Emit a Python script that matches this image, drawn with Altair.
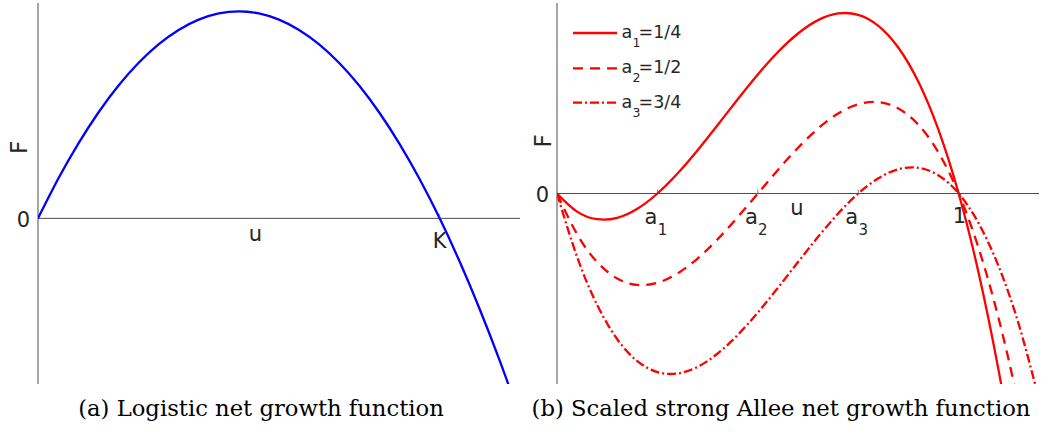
import altair as alt
import pandas as pd

# Population grid shared by both panels
u_grid = [0.0, 0.05, 0.1, 0.15, 0.2, 0.25, 0.3, 0.35, 0.4, 0.45, 0.5, 0.55, 0.6,
          0.65, 0.7, 0.75, 0.8, 0.85, 0.9, 0.95, 1.0, 1.05, 1.1, 1.15, 1.2]

# (a) logistic net growth F(u)
logistic_F = [0.0, 0.0475, 0.09, 0.1275, 0.16, 0.1875, 0.21, 0.2275, 0.24, 0.2475,
              0.25, 0.2475, 0.24, 0.2275, 0.21, 0.1875, 0.16, 0.1275, 0.09, 0.0475,
              0.0, -0.0525, -0.11, -0.1725, -0.24]

# (b) scaled strong Allee net growth F(u) for three thresholds
allee_a1 = [0.0, -0.0095, -0.0135, -0.01275, -0.008, 0.0, 0.0105, 0.02275, 0.036,
            0.0495, 0.0625, 0.07425, 0.084, 0.091, 0.0945, 0.09375, 0.088, 0.0765,
            0.0585, 0.03325, 0.0, -0.042, -0.0935, -0.15525, -0.228]
allee_a2 = [0.0, -0.021375, -0.036, -0.044625, -0.048, -0.046875, -0.042, -0.034125,
            -0.024, -0.012375, 0.0, 0.012375, 0.024, 0.034125, 0.042, 0.046875, 0.048,
            0.044625, 0.036, 0.021375, 0.0, -0.028875, -0.066, -0.112125, -0.168]
allee_a3 = [0.0, -0.03325, -0.0585, -0.0765, -0.088, -0.09375, -0.0945, -0.091, -0.084,
            -0.07425, -0.0625, -0.0495, -0.036, -0.02275, -0.0105, 0.0, 0.008, 0.01275,
            0.0135, 0.0095, 0.0, -0.01575, -0.0385, -0.069, -0.108]

# Axis extents
u_domain = [0.0, 1.2]
left_F_domain = [-0.2, 0.26]
right_F_domain = [-0.1, 0.1]

# Tick positions and labels
K_value = 1.0
a_values = [0.25, 0.5, 0.75]
a_subscripts = ["1", "2", "3"]
legend_labels = ["=1/4", "=1/2", "=3/4"]

W, H = 482, 381
SANS = "DejaVu Sans"
SERIF = "DejaVu Serif"
TXT = "#262626"
AXC = "#4d4d4d"
BLUE = "#0000ff"
RED = "#ff0000"
CAPTION_SIZE = 22.7

xs = alt.Scale(domain=u_domain, nice=False, zero=False)
ys_left = alt.Scale(domain=left_F_domain, nice=False, zero=False)
ys_right = alt.Scale(domain=right_F_domain, nice=False, zero=False)


def X(field):
    return alt.X(field, type="quantitative", scale=xs, axis=None)


def axes_layers(ys, ydom):
    axis_df = pd.DataFrame({"x0": [u_domain[0]], "x1": [u_domain[1]],
                            "y0": [ydom[0]], "y1": [ydom[1]], "zero": [0.0]})
    base = alt.Chart(axis_df)
    xaxis = base.mark_rule(color=AXC, strokeWidth=1).encode(
        x=X("x0"), x2="x1:Q",
        y=alt.Y("zero:Q", scale=ys, axis=None))
    yaxis = base.mark_rule(color=AXC, strokeWidth=1).encode(
        x=X("zero"),
        y=alt.Y("y0:Q", scale=ys, axis=None), y2="y1:Q")
    return xaxis + yaxis


def label(text, x, y, size=21, angle=None, align="center", font=SANS, color=TXT):
    kw = dict(font=font, fontSize=size, color=color, align=align, baseline="alphabetic")
    if angle is not None:
        kw["angle"] = angle
    return alt.Chart(pd.DataFrame({"t": [text]})).mark_text(**kw).encode(
        x=alt.value(x), y=alt.value(y), text="t:N")


# ---------- (a) logistic panel ----------
logistic_df = pd.DataFrame({"u": u_grid, "F": logistic_F})
left_curve = alt.Chart(logistic_df).mark_line(
    color=BLUE, strokeWidth=2.3, interpolate="natural", clip=True
).encode(x=X("u"), y=alt.Y("F:Q", scale=ys_left, axis=None))

k_df = pd.DataFrame({"u": [K_value], "F": [0.0], "t": ["K"]})
left_ticks = alt.Chart(k_df).mark_tick(
    orient="vertical", size=4, thickness=1, color=AXC, yOffset=-2
).encode(x=X("u"), y=alt.Y("F:Q", scale=ys_left, axis=None))
left_k = alt.Chart(k_df).mark_text(
    font=SANS, fontSize=21, color=TXT, align="center", baseline="alphabetic", dy=29.7
).encode(x=X("u"), y=alt.Y("F:Q", scale=ys_left, axis=None), text="t:N")
left_zero = alt.Chart(pd.DataFrame({"u": [0.0], "F": [0.0], "t": ["0"]})).mark_text(
    font=SANS, fontSize=21, color=TXT, align="right", baseline="alphabetic", dx=-8, dy=8.2
).encode(x=X("u"), y=alt.Y("F:Q", scale=ys_left, axis=None), text="t:N")

# keeps a fixed left/top margin around the plot area
left_margin = alt.Chart(pd.DataFrame({"m": [0]})).mark_rule(
    strokeOpacity=0, strokeWidth=1
).encode(x=alt.value(-37.5), y=alt.value(-2.5), y2=alt.value(0))

left_panel = alt.layer(
    left_margin,
    axes_layers(ys_left, left_F_domain),
    left_curve, left_ticks, left_k, left_zero,
    label("u", 217.5, 238),
    label("F", -11, 144.5, size=23, angle=270),
    label("(a) Logistic net growth function", 223, 413, size=CAPTION_SIZE, font=SERIF,
          color="#000000"),
).properties(width=W, height=H)

# ---------- (b) strong Allee panel ----------
def allee_curve(values, dash=None):
    kw = dict(color=RED, strokeWidth=2.3, interpolate="natural", clip=True)
    if dash is not None:
        kw["strokeDash"] = dash
    df = pd.DataFrame({"u": u_grid, "F": values})
    return alt.Chart(df).mark_line(**kw).encode(
        x=X("u"), y=alt.Y("F:Q", scale=ys_right, axis=None))


DASHES = [None, [10, 7], [9, 3, 2, 3]]
curves = [allee_curve(v, d) for v, d in zip([allee_a1, allee_a2, allee_a3], DASHES)]

tick_df = pd.DataFrame({"u": a_values + [1.0], "F": [0.0] * 4})
right_ticks = alt.Chart(tick_df).mark_tick(
    orient="vertical", size=4, thickness=1, color=AXC, yOffset=-2
).encode(x=X("u"), y=alt.Y("F:Q", scale=ys_right, axis=None))

a_df = pd.DataFrame({"u": a_values, "F": [0.0] * 3, "a": ["a"] * 3, "s": a_subscripts})
a_main = alt.Chart(a_df).mark_text(
    font=SANS, fontSize=21, color=TXT, align="center", baseline="alphabetic", dx=-6.5, dy=30.7
).encode(x=X("u"), y=alt.Y("F:Q", scale=ys_right, axis=None), text="a:N")
a_sub = alt.Chart(a_df).mark_text(
    font=SANS, fontSize=15, color=TXT, align="center", baseline="alphabetic", dx=5, dy=41.7
).encode(x=X("u"), y=alt.Y("F:Q", scale=ys_right, axis=None), text="s:N")
one_df = pd.DataFrame({"u": [1.0], "F": [0.0], "t": ["1"]})
one_lab = alt.Chart(one_df).mark_text(
    font=SANS, fontSize=21, color=TXT, align="center", baseline="alphabetic", dx=0.7, dy=29.7
).encode(x=X("u"), y=alt.Y("F:Q", scale=ys_right, axis=None), text="t:N")
right_zero = alt.Chart(pd.DataFrame({"u": [0.0], "F": [0.0], "t": ["0"]})).mark_text(
    font=SANS, fontSize=21, color=TXT, align="right", baseline="alphabetic", dx=-8, dy=8.7
).encode(x=X("u"), y=alt.Y("F:Q", scale=ys_right, axis=None), text="t:N")

# legend: sample line plus "a", subscript and value text
legend_layers = []
row_y = [30, 65.3, 99.7]
for ry, d, sub, txt in zip(row_y, DASHES, a_subscripts, legend_labels):
    kw = dict(color=RED, strokeWidth=2.3)
    if d is not None:
        kw["strokeDash"] = d
    legend_layers.append(
        alt.Chart(pd.DataFrame({"m": [0]})).mark_rule(**kw).encode(
            x=alt.value(16), x2=alt.value(60), y=alt.value(ry)))
    legend_layers.append(label("a", 64.5, ry + 5, size=17.5, align="left"))
    legend_layers.append(label(sub, 75.5, ry + 14, size=12.5, align="left"))
    legend_layers.append(label(txt, 81.5, ry + 5, size=17.5, align="left"))

right_panel = alt.layer(
    axes_layers(ys_right, right_F_domain),
    *curves, right_ticks, a_main, a_sub, one_lab, right_zero,
    label("u", 240, 212),
    label("F", -6, 138, size=23, angle=270),
    *legend_layers,
    label("(b) Scaled strong Allee net growth function", 224, 413, size=CAPTION_SIZE,
          font=SERIF, color="#000000"),
).properties(width=W, height=H)

chart = alt.hconcat(
    left_panel, right_panel, spacing=37, bounds="flush",
    padding={"left": 0, "top": 0, "right": 0, "bottom": 0},
).configure_view(stroke=None).properties(background="white")

chart.save("out.html", embed_options={"renderer": "svg", "actions": False})
